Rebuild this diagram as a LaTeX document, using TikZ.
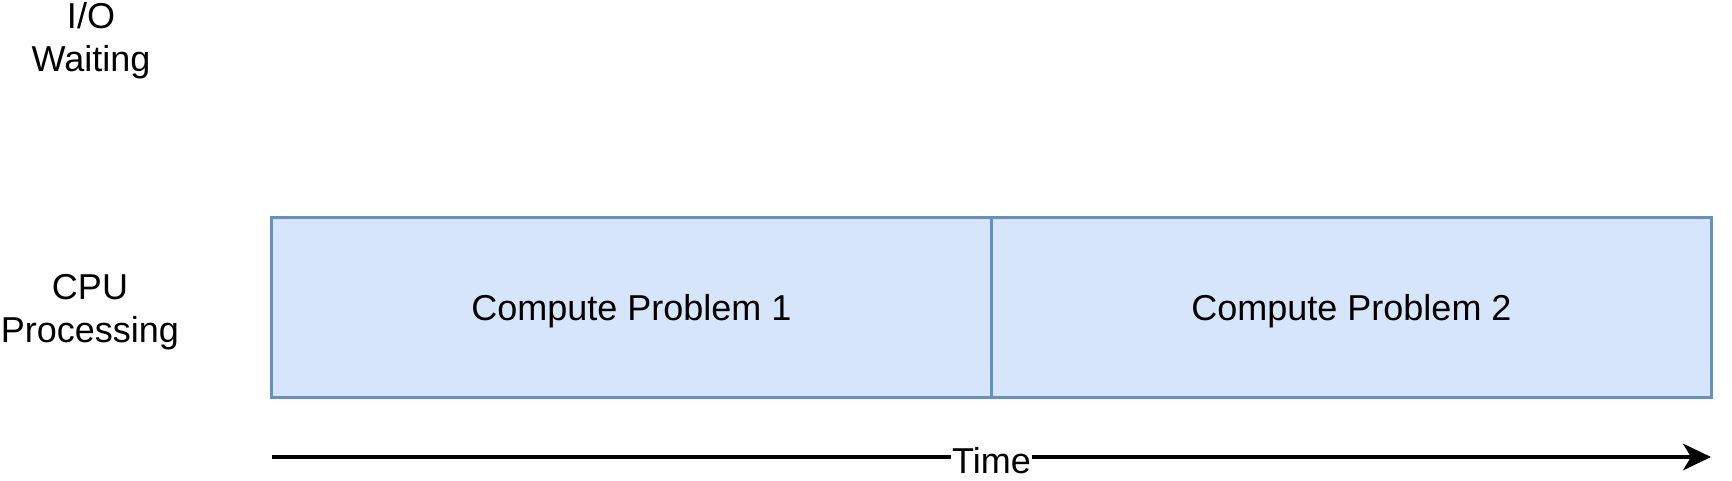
\documentclass[tikz,border=0pt]{standalone}
\usepackage{fontspec}
\setmainfont{Liberation Sans}
\usetikzlibrary{arrows.meta,positioning}
\definecolor{boxfill}{HTML}{D6E5FA}
\definecolor{boxline}{HTML}{6C8EBF}
\tikzset{
	task/.style={draw=boxline, fill=boxfill, line width=1.8pt, minimum width=540pt, minimum height=135pt, inner sep=0pt, outer sep=0pt, text height=25pt, text depth=5pt},
	rowlabel/.style={align=center, inner sep=0pt},
}
\begin{document}
\begin{tikzpicture}[x=0.75pt, y=-0.75pt, font=\fontsize{27}{32}\selectfont]
		\useasboundingbox (0,0) rectangle (1732,480);
		%--row labels
		\node[rowlabel] (io) at (91,41) {I/O\\Waiting};
		\node[rowlabel] (cpu) at (90,312) {CPU\\Processing};
		
		%--compute blocks
		\node[task] (p1) at (631.5,307.5) {Compute Problem 1};
		\node[task, right=0pt of p1] (p2) {Compute Problem 2};
		
		%--time axis
		\coordinate (t0) at (272,457);
		\coordinate (t1) at (1711,457);
		\draw[line width=2.5pt, -{Stealth[length=21pt, width=20pt, inset=6pt]}] (t0) -- node[fill=white, inner sep=1pt, yshift=-3pt] (time) {Time} (t1);
	\end{tikzpicture}
\end{document}
